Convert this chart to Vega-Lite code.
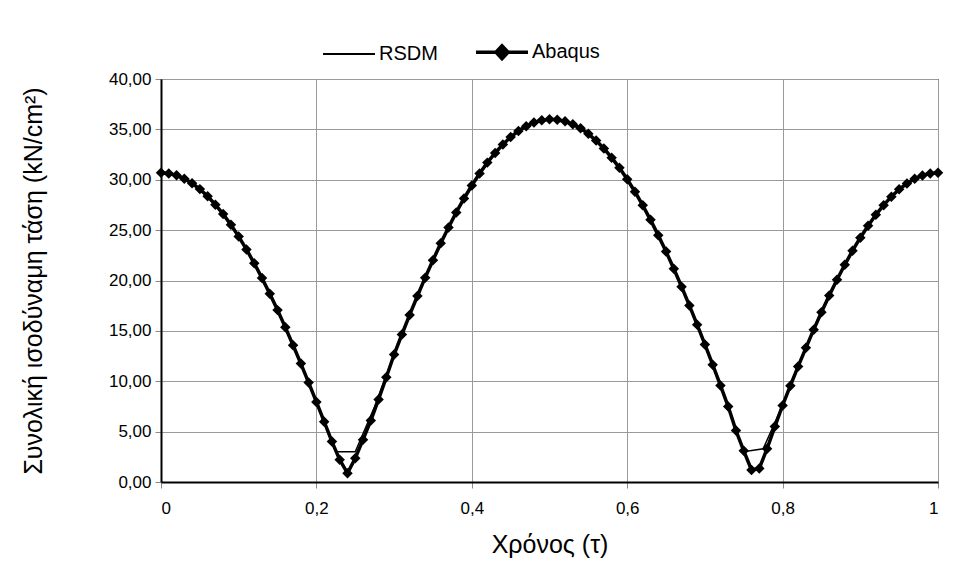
{
  "$schema": "https://vega.github.io/schema/vega-lite/v6.json",
  "width": 777,
  "height": 403,
  "autosize": "none",
  "padding": {"left": 161, "top": 79, "right": 18, "bottom": 97},
  "background": "white",
  "config": {
    "font": "Liberation Sans",
    "view": {"stroke": "#000000", "strokeWidth": 1},
    "axis": {
      "grid": true,
      "gridColor": "#9a9a9a",
      "gridWidth": 1,
      "domainColor": "#000000",
      "domainWidth": 2,
      "tickColor": "#8a8a8a",
      "tickSize": 6,
      "tickWidth": 1,
      "labelFont": "Liberation Sans",
      "labelFontSize": 17,
      "labelColor": "#000000",
      "titleFont": "Liberation Sans",
      "titleFontWeight": "normal",
      "titleColor": "#000000"
    }
  },
  "data": {
    "values": [
      {"s": "Abaqus", "t": 0.00, "v": 30.70}, {"s": "Abaqus", "t": 0.01, "v": 30.63}, {"s": "Abaqus", "t": 0.02, "v": 30.44},
      {"s": "Abaqus", "t": 0.03, "v": 30.11}, {"s": "Abaqus", "t": 0.04, "v": 29.65}, {"s": "Abaqus", "t": 0.05, "v": 29.07},
      {"s": "Abaqus", "t": 0.06, "v": 28.36}, {"s": "Abaqus", "t": 0.07, "v": 27.53}, {"s": "Abaqus", "t": 0.08, "v": 26.59},
      {"s": "Abaqus", "t": 0.09, "v": 25.53}, {"s": "Abaqus", "t": 0.10, "v": 24.36}, {"s": "Abaqus", "t": 0.11, "v": 23.08},
      {"s": "Abaqus", "t": 0.12, "v": 21.71}, {"s": "Abaqus", "t": 0.13, "v": 20.24}, {"s": "Abaqus", "t": 0.14, "v": 18.69},
      {"s": "Abaqus", "t": 0.15, "v": 17.06}, {"s": "Abaqus", "t": 0.16, "v": 15.35}, {"s": "Abaqus", "t": 0.17, "v": 13.58},
      {"s": "Abaqus", "t": 0.18, "v": 11.75}, {"s": "Abaqus", "t": 0.19, "v": 9.87}, {"s": "Abaqus", "t": 0.20, "v": 7.95},
      {"s": "Abaqus", "t": 0.21, "v": 5.99}, {"s": "Abaqus", "t": 0.22, "v": 4.01}, {"s": "Abaqus", "t": 0.23, "v": 2.20},
      {"s": "Abaqus", "t": 0.24, "v": 0.87}, {"s": "Abaqus", "t": 0.25, "v": 2.36}, {"s": "Abaqus", "t": 0.26, "v": 4.20},
      {"s": "Abaqus", "t": 0.27, "v": 6.10}, {"s": "Abaqus", "t": 0.28, "v": 8.20}, {"s": "Abaqus", "t": 0.29, "v": 10.40},
      {"s": "Abaqus", "t": 0.30, "v": 12.65}, {"s": "Abaqus", "t": 0.31, "v": 14.64}, {"s": "Abaqus", "t": 0.32, "v": 16.58},
      {"s": "Abaqus", "t": 0.33, "v": 18.46}, {"s": "Abaqus", "t": 0.34, "v": 20.28}, {"s": "Abaqus", "t": 0.35, "v": 22.01},
      {"s": "Abaqus", "t": 0.36, "v": 23.69}, {"s": "Abaqus", "t": 0.37, "v": 25.26}, {"s": "Abaqus", "t": 0.38, "v": 26.76},
      {"s": "Abaqus", "t": 0.39, "v": 28.14}, {"s": "Abaqus", "t": 0.40, "v": 29.43}, {"s": "Abaqus", "t": 0.41, "v": 30.62},
      {"s": "Abaqus", "t": 0.42, "v": 31.70}, {"s": "Abaqus", "t": 0.43, "v": 32.66}, {"s": "Abaqus", "t": 0.44, "v": 33.51},
      {"s": "Abaqus", "t": 0.45, "v": 34.24}, {"s": "Abaqus", "t": 0.46, "v": 34.84}, {"s": "Abaqus", "t": 0.47, "v": 35.32},
      {"s": "Abaqus", "t": 0.48, "v": 35.68}, {"s": "Abaqus", "t": 0.49, "v": 35.90}, {"s": "Abaqus", "t": 0.50, "v": 36.00},
      {"s": "Abaqus", "t": 0.51, "v": 35.96}, {"s": "Abaqus", "t": 0.52, "v": 35.80}, {"s": "Abaqus", "t": 0.53, "v": 35.51},
      {"s": "Abaqus", "t": 0.54, "v": 35.10}, {"s": "Abaqus", "t": 0.55, "v": 34.56}, {"s": "Abaqus", "t": 0.56, "v": 33.89},
      {"s": "Abaqus", "t": 0.57, "v": 33.10}, {"s": "Abaqus", "t": 0.58, "v": 32.19}, {"s": "Abaqus", "t": 0.59, "v": 31.18},
      {"s": "Abaqus", "t": 0.60, "v": 30.05}, {"s": "Abaqus", "t": 0.61, "v": 28.81}, {"s": "Abaqus", "t": 0.62, "v": 27.46},
      {"s": "Abaqus", "t": 0.63, "v": 26.02}, {"s": "Abaqus", "t": 0.64, "v": 24.48}, {"s": "Abaqus", "t": 0.65, "v": 22.87},
      {"s": "Abaqus", "t": 0.66, "v": 21.16}, {"s": "Abaqus", "t": 0.67, "v": 19.38}, {"s": "Abaqus", "t": 0.68, "v": 17.53},
      {"s": "Abaqus", "t": 0.69, "v": 15.62}, {"s": "Abaqus", "t": 0.70, "v": 13.65}, {"s": "Abaqus", "t": 0.71, "v": 11.64},
      {"s": "Abaqus", "t": 0.72, "v": 9.58}, {"s": "Abaqus", "t": 0.73, "v": 7.49}, {"s": "Abaqus", "t": 0.74, "v": 5.10},
      {"s": "Abaqus", "t": 0.75, "v": 3.10}, {"s": "Abaqus", "t": 0.76, "v": 1.20}, {"s": "Abaqus", "t": 0.77, "v": 1.35},
      {"s": "Abaqus", "t": 0.78, "v": 3.30}, {"s": "Abaqus", "t": 0.79, "v": 5.50}, {"s": "Abaqus", "t": 0.80, "v": 7.60},
      {"s": "Abaqus", "t": 0.81, "v": 9.56}, {"s": "Abaqus", "t": 0.82, "v": 11.47}, {"s": "Abaqus", "t": 0.83, "v": 13.32},
      {"s": "Abaqus", "t": 0.84, "v": 15.12}, {"s": "Abaqus", "t": 0.85, "v": 16.85}, {"s": "Abaqus", "t": 0.86, "v": 18.50},
      {"s": "Abaqus", "t": 0.87, "v": 20.08}, {"s": "Abaqus", "t": 0.88, "v": 21.56}, {"s": "Abaqus", "t": 0.89, "v": 22.96},
      {"s": "Abaqus", "t": 0.90, "v": 24.25}, {"s": "Abaqus", "t": 0.91, "v": 25.44}, {"s": "Abaqus", "t": 0.92, "v": 26.52},
      {"s": "Abaqus", "t": 0.93, "v": 27.48}, {"s": "Abaqus", "t": 0.94, "v": 28.32}, {"s": "Abaqus", "t": 0.95, "v": 29.05},
      {"s": "Abaqus", "t": 0.96, "v": 29.63}, {"s": "Abaqus", "t": 0.97, "v": 30.10}, {"s": "Abaqus", "t": 0.98, "v": 30.43},
      {"s": "Abaqus", "t": 0.99, "v": 30.63}, {"s": "Abaqus", "t": 1.00, "v": 30.70},
      {"s": "RSDM", "t": 0.000, "v": 30.70}, {"s": "RSDM", "t": 0.025, "v": 30.29}, {"s": "RSDM", "t": 0.050, "v": 29.07},
      {"s": "RSDM", "t": 0.075, "v": 27.07}, {"s": "RSDM", "t": 0.100, "v": 24.36}, {"s": "RSDM", "t": 0.125, "v": 20.99},
      {"s": "RSDM", "t": 0.150, "v": 17.06}, {"s": "RSDM", "t": 0.175, "v": 12.67}, {"s": "RSDM", "t": 0.200, "v": 7.95},
      {"s": "RSDM", "t": 0.225, "v": 3.00}, {"s": "RSDM", "t": 0.250, "v": 3.00}, {"s": "RSDM", "t": 0.275, "v": 7.49},
      {"s": "RSDM", "t": 0.300, "v": 12.65}, {"s": "RSDM", "t": 0.325, "v": 17.53}, {"s": "RSDM", "t": 0.350, "v": 22.01},
      {"s": "RSDM", "t": 0.375, "v": 26.02}, {"s": "RSDM", "t": 0.400, "v": 29.43}, {"s": "RSDM", "t": 0.425, "v": 32.19},
      {"s": "RSDM", "t": 0.450, "v": 34.24}, {"s": "RSDM", "t": 0.475, "v": 35.51}, {"s": "RSDM", "t": 0.500, "v": 36.00},
      {"s": "RSDM", "t": 0.525, "v": 35.68}, {"s": "RSDM", "t": 0.550, "v": 34.56}, {"s": "RSDM", "t": 0.575, "v": 32.66},
      {"s": "RSDM", "t": 0.600, "v": 30.05}, {"s": "RSDM", "t": 0.625, "v": 26.75}, {"s": "RSDM", "t": 0.650, "v": 22.87},
      {"s": "RSDM", "t": 0.675, "v": 18.46}, {"s": "RSDM", "t": 0.700, "v": 13.65}, {"s": "RSDM", "t": 0.725, "v": 8.54},
      {"s": "RSDM", "t": 0.750, "v": 3.00}, {"s": "RSDM", "t": 0.775, "v": 3.30}, {"s": "RSDM", "t": 0.800, "v": 7.60},
      {"s": "RSDM", "t": 0.825, "v": 12.40}, {"s": "RSDM", "t": 0.850, "v": 16.85}, {"s": "RSDM", "t": 0.875, "v": 20.83},
      {"s": "RSDM", "t": 0.900, "v": 24.25}, {"s": "RSDM", "t": 0.925, "v": 27.02}, {"s": "RSDM", "t": 0.950, "v": 29.05},
      {"s": "RSDM", "t": 0.975, "v": 30.28}, {"s": "RSDM", "t": 1.000, "v": 30.70}
    ]
  },
  "encoding": {
    "x": {
      "field": "t",
      "type": "quantitative",
      "scale": {"domain": [0, 1], "nice": false},
      "axis": {
        "values": [0, 0.2, 0.4, 0.6, 0.8, 1],
        "labelExpr": "replace(format(datum.value, '~g'), '.', ',')",
        "labelPadding": 12,
        "title": "Χρόνος (τ)",
        "titleFontSize": 25,
        "titlePadding": 16
      }
    },
    "y": {
      "field": "v",
      "type": "quantitative",
      "scale": {"domain": [0, 40], "nice": false},
      "axis": {
        "values": [0, 5, 10, 15, 20, 25, 30, 35, 40],
        "labelExpr": "replace(format(datum.value, '.2f'), '.', ',')",
        "labelPadding": 4,
        "title": "Συνολική ισοδύναμη τάση (kN/cm²)",
        "titleFontSize": 25,
        "titlePadding": 62
      }
    }
  },
  "layer": [
    {
      "mark": {"type": "line", "interpolate": "linear"},
      "encoding": {
        "color": {
          "field": "s",
          "type": "nominal",
          "scale": {"domain": ["RSDM", "Abaqus"], "range": ["#000000", "#000000"]},
          "legend": {
            "title": null,
            "orient": "none",
            "legendX": 178,
            "legendY": -37,
            "direction": "horizontal",
            "symbolType": "M-1,0L1,0",
            "symbolSize": 2700,
            "labelFontSize": 20,
            "labelFont": "Liberation Sans",
            "labelColor": "#000000",
            "labelOffset": 20,
            "columnPadding": 31,
            "encode": {
              "symbols": {
                "update": {
                  "shape": {"signal": "datum.value === 'Abaqus' ? 'M-1,0L1,0M-0.23,0L0,-0.25L0.23,0L0,0.25Z' : 'M-1,0L1,0'"},
                  "fill": {"value": "#000000"},
                  "stroke": {"value": "#000000"},
                  "strokeWidth": {"signal": "datum.value === 'Abaqus' ? 3.5 : 2"}
                }
              }
            }
          }
        },
        "strokeWidth": {"condition": {"test": "datum.s === 'Abaqus'", "value": 3.5}, "value": 1.5}
      }
    },
    {
      "transform": [{"filter": "datum.s === 'Abaqus'"}],
      "mark": {"type": "point", "shape": "diamond", "filled": true, "size": 110, "color": "#000000", "opacity": 1}
    }
  ]
}
